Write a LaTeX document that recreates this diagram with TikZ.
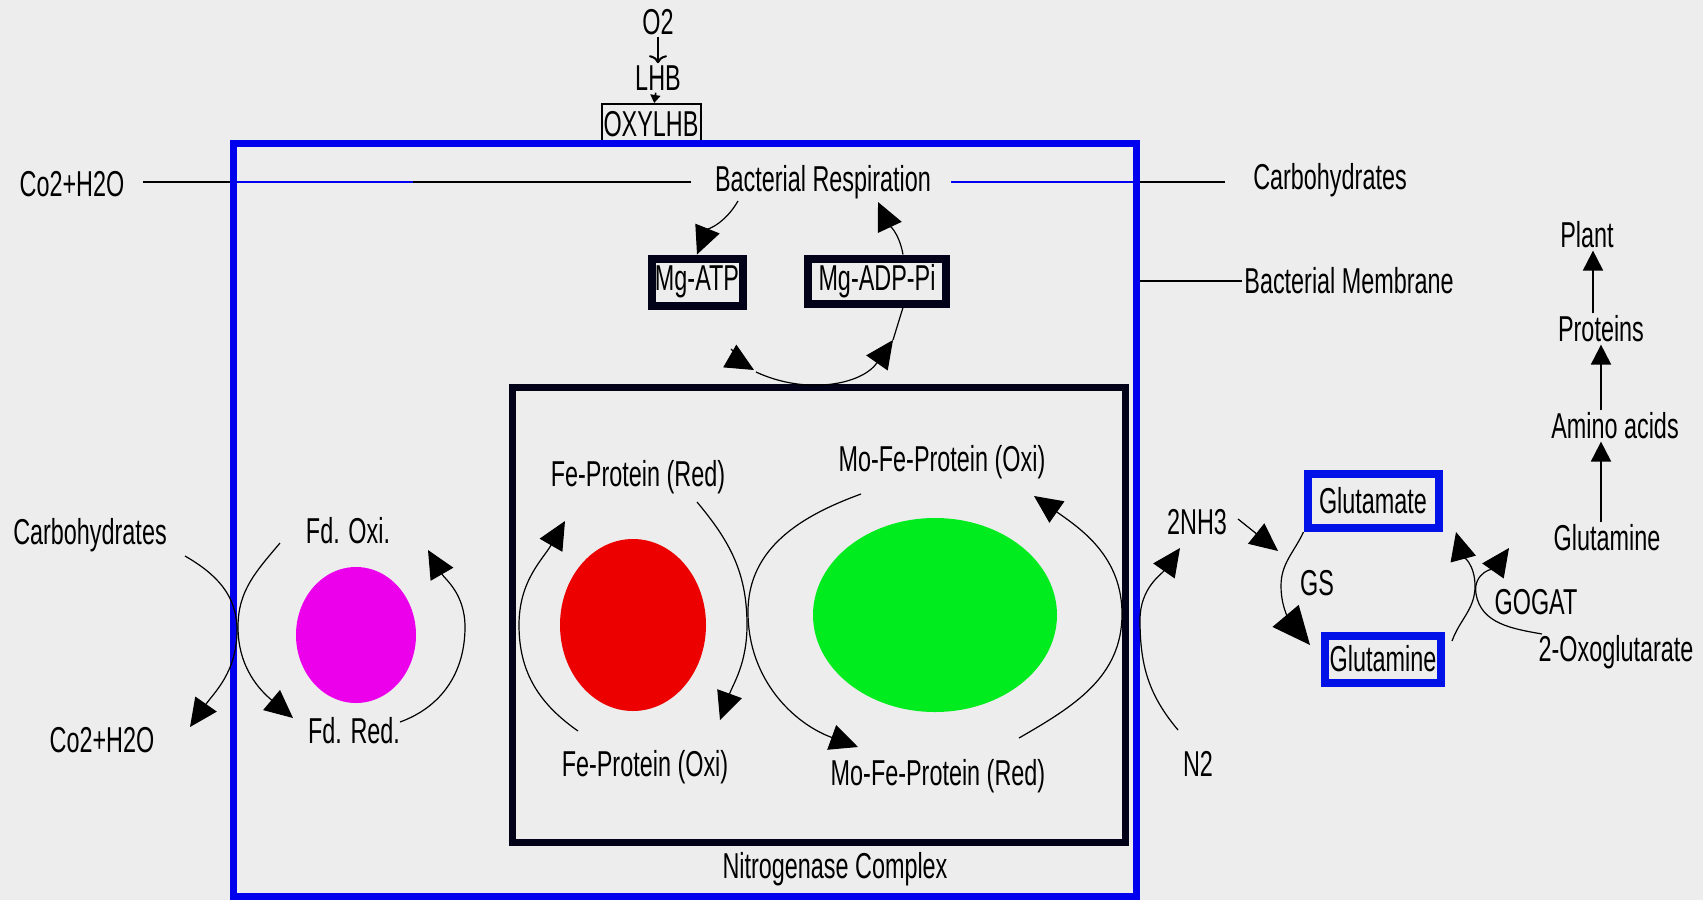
\documentclass[tikz,border=0pt]{standalone}
\usepackage{fontspec}
\setmainfont{Liberation Sans}[FakeStretch=0.65]
\usepackage{tikz}
\usetikzlibrary{arrows.meta}

\definecolor{bggrey}{RGB}{237,237,237}
\definecolor{membblue}{RGB}{0,0,238}
\definecolor{glublue}{RGB}{0,18,232}
\definecolor{navy}{RGB}{2,2,24}
\definecolor{fdpink}{RGB}{236,0,236}
\definecolor{fered}{RGB}{236,0,0}
\definecolor{mofegreen}{RGB}{0,236,30}

\tikzset{
	txt/.style={font=\fontsize{18}{20}\selectfont, inner sep=1pt},
	curv/.style={line width=0.6pt},
	bigtip/.style={curv, -{Triangle[length=14pt,width=13pt]}},
	uptip/.style={line width=1pt, -{Triangle[length=10pt,width=10pt]}},
	mgbox/.style={txt, draw=navy, line width=4pt},
	glubox/.style={txt, draw=glublue, line width=4pt}
}

\begin{document}
\begin{tikzpicture}[x=0.5pt,y=0.5pt]
		\fill[bggrey] (0,0) rectangle (1703,-900);
		% Oxygen side:
		\node[txt] (o2) at (658,-22) {O2};
		\node[txt] (lhb) at (658,-78) {LHB};
		\node[txt, draw, line width=1pt, minimum width=49.5pt, minimum height=20pt] (oxy) at (651,-124) {OXYLHB};
		\draw[line width=1pt, -{To[length=4pt,width=9pt]}] (o2) -- (lhb);
		\draw[line width=0.8pt, -{Triangle[length=4pt,width=5pt]}] (lhb) -- (oxy);
		% Membrane and nitrogenase complex:
		\node[draw=membblue, line width=3.5pt, minimum width=451.5pt, minimum height=376.5pt] (memb) at (684.5,-519.5) {};
		\node[draw=navy, line width=3.5pt, minimum width=306.5pt, minimum height=227.5pt] (nitro) at (818.5,-614.5) {};
		\node[txt] (nitrolbl) at (835,-869) {Nitrogenase Complex};
		% Respiration line:
		\node[txt] (co2top) at (72,-184) {Co2+H2O};
		\node[txt] (resp) at (823,-182) {Bacterial Respiration};
		\node[txt] (carbtop) at (1330,-180) {Carbohydrates};
		\node[txt, anchor=west] (membl) at (1242,-281) {Bacterial Membrane};
		\draw[line width=1pt, shorten <=8pt, shorten >=11pt] (co2top.east |- resp) -- (resp.west);
		\draw[membblue, line width=1pt] (memb.west |- resp) -- (413,-182);
		\draw[membblue, line width=1pt, shorten <=9pt] (resp.east) -- (memb.east |- resp);
		\draw[line width=1pt, shorten >=13pt] (memb.east |- resp) -- (carbtop.west |- resp);
		\draw[line width=1pt] (memb.east |- membl.west) -- (membl.west);
		% ATP cycle:
		\node[mgbox, minimum width=45.5pt, minimum height=23.5pt] (mgatp) at (697,-282) {Mg-ATP};
		\node[mgbox, minimum width=69pt, minimum height=22.5pt] (mgadp) at (877,-281) {Mg-ADP-Pi};
		\draw[bigtip] (738,-201) to[out=-120,in=68] (mgatp.north);
		\draw[bigtip] (mgadp.north -| 903,0) to[out=100,in=-65] (878,-202);
		\draw[bigtip] (731,-349) to[out=-45,in=150] (754,-370);
		\draw[bigtip] (756,-372) to[out=-25,in=-125] (893,-340);
		\draw[curv] (mgadp.south -| 903,0) -- (893,-340);
		% Ferredoxin:
		\fill[fdpink] (356,-635) ellipse [x radius=30pt, y radius=34pt];
		\node[txt] (carbl) at (90,-535) {Carbohydrates};
		\node[txt] (co2bot) at (102,-740) {Co2+H2O};
		\node[txt] (fdoxi) at (348,-531) {Fd. Oxi.};
		\node[txt] (fdred) at (354,-731) {Fd. Red.};
		\draw[bigtip] (185,-556) to[out=-30,in=90] (237,-630) to[out=-90,in=55] (190,-727);
		\draw[bigtip] (280,-543) to[out=-130,in=90] (238,-627) to[out=-90,in=140] (293,-718);
		\draw[bigtip] (400,-722) to[out=20,in=-90] (465,-627) to[out=90,in=-60] (428,-550);
		% Fe protein and Mo-Fe protein:
		\fill[fered] (633,-625) ellipse [x radius=36.5pt, y radius=43pt];
		\fill[mofegreen] (935,-615) ellipse [x radius=61pt, y radius=48.5pt];
		\node[txt] (ferd) at (638,-477) {Fe-Protein (Red)};
		\node[txt] (feox) at (645,-767) {Fe-Protein (Oxi)};
		\node[txt] (mofeox) at (942,-462) {Mo-Fe-Protein (Oxi)};
		\node[txt] (moferd) at (938,-776) {Mo-Fe-Protein (Red)};
		\draw[bigtip] (578,-731) to[out=145,in=-90] (519,-625) to[out=90,in=-120] (565,-521);
		\draw[bigtip] (697,-502) to[out=-50,in=90] (747,-625) to[out=-90,in=70] (720,-720);
		\draw[bigtip] (861,-494) to[out=200,in=90] (748,-612) to[out=-90,in=160] (858,-747);
		\draw[bigtip] (1019,-738) to[out=30,in=-90] (1122,-614) to[out=90,in=-35] (1034,-496);
		% Ammonia assimilation:
		\node[txt] (n2) at (1198,-764) {N2};
		\node[txt] (nh3) at (1197,-522) {2NH3};
		\node[glubox, minimum width=65.5pt, minimum height=27pt] (glu) at (1373,-501) {Glutamate};
		\node[glubox, minimum width=58pt, minimum height=23.5pt] (gln) at (1383,-659) {Glutamine};
		\node[txt] (gs) at (1317,-583) {GS};
		\node[txt] (gogat) at (1536,-602) {GOGAT};
		\node[txt] (oxoglu) at (1616,-652) {2-Oxoglutarate};
		\draw[bigtip] (1178,-730) to[out=130,in=-90] (1140,-620) to[out=90,in=-125] (1180,-548);
		\draw[bigtip] (1238,-519) -- (1278,-551);
		\draw[curv, -{Triangle[length=19pt,width=17pt]}] (glu.south west) to[out=-115,in=90] (1281,-586) to[out=-90,in=130] (1310,-645);
		\draw[bigtip] (1452,-641) to[out=70,in=-90] (1475,-586) to[out=90,in=-75] (1456,-532);
		\draw[bigtip] (1542,-634) to[out=170,in=-80] (1476,-594) to[out=100,in=-125] (1509,-548);
		% Towards the plant:
		\node[txt] (plant) at (1587,-235) {Plant};
		\node[txt] (prot) at (1601,-329) {Proteins};
		\node[txt] (amino) at (1615,-426) {Amino acids};
		\node[txt] (gln2) at (1607,-538) {Glutamine};
		\draw[uptip] (gln2.north -| prot.south) -- (amino.south -| prot.south);
		\draw[uptip] (prot.south |- amino.north) -- (prot.south);
		\draw[uptip] ([xshift=3pt]plant.south |- prot.north) -- ([xshift=3pt]plant.south);
\end{tikzpicture}
\end{document}
